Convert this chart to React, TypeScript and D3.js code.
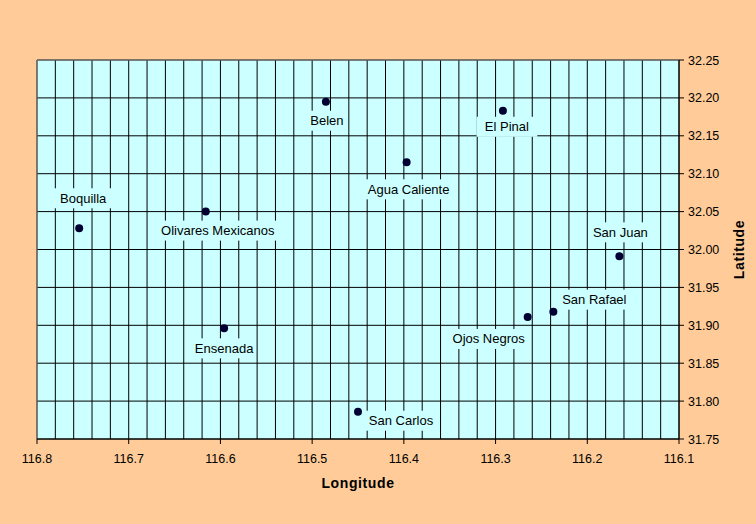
import * as d3 from "d3";

const places = [
  "Boquilla",
  "Olivares Mexicanos",
  "Ensenada",
  "Belen",
  "San Carlos",
  "Agua Caliente",
  "El Pinal",
  "Ojos Negros",
  "San Rafael",
  "San Juan",
];
const longitudes = [116.754, 116.616, 116.596, 116.485, 116.45, 116.397, 116.292, 116.265, 116.237, 116.165];
const latitudes = [32.028, 32.05, 31.896, 32.195, 31.786, 32.115, 32.183, 31.911, 31.918, 31.991];

const xTicks = [116.8, 116.7, 116.6, 116.5, 116.4, 116.3, 116.2, 116.1];
const yTicks = [31.75, 31.8, 31.85, 31.9, 31.95, 32.0, 32.05, 32.1, 32.15, 32.2, 32.25];

// label offsets from the point, in px (layout only)
const labelOffsets: [number, number][] = [
  [4, -30],
  [12, 19],
  [0, 20],
  [1, 19],
  [43, 9],
  [2, 27],
  [4, 16],
  [-39, 22],
  [41, -12],
  [1, -24],
];

const W = 756;
const H = 524;
const M = { left: 37, right: 679, top: 60, bottom: 439 };
const FONT = "'Liberation Sans', Arial, sans-serif";

export default function App() {
  const x = d3.scaleLinear().domain([116.8, 116.1]).range([M.left, M.right]);
  const y = d3.scaleLinear().domain([31.75, 32.25]).range([M.bottom, M.top]);
  const vGrid = d3.range(0, 36).map((i) => 116.8 - i * 0.02);

  return (
    <svg
      width={W}
      height={H}
      style={{ position: "absolute", left: 0, top: 0, fontFamily: FONT }}
    >
      <rect width={W} height={H} fill="#FFCC99" />
      <rect
        x={M.left}
        y={M.top}
        width={M.right - M.left}
        height={M.bottom - M.top}
        fill="#CCFFFF"
      />
      {vGrid.map((v, i) => (
        <line
          key={"v" + i}
          x1={x(v)}
          x2={x(v)}
          y1={M.top}
          y2={M.bottom}
          stroke="#000"
          strokeWidth={1}
        />
      ))}
      {yTicks.map((t) => (
        <line
          key={"h" + t}
          x1={M.left}
          x2={M.right}
          y1={y(t)}
          y2={y(t)}
          stroke="#000"
          strokeWidth={1}
        />
      ))}
      {/* plot border */}
      <line x1={M.left} x2={M.right} y1={M.top} y2={M.top} stroke="#808080" />
      <line x1={M.left} x2={M.left} y1={M.top} y2={M.bottom} stroke="#808080" />
      {/* axes */}
      <line x1={M.left} x2={M.right} y1={M.bottom} y2={M.bottom} stroke="#000" />
      <line x1={M.right} x2={M.right} y1={M.top} y2={M.bottom} stroke="#000" />
      {xTicks.map((t) => (
        <g key={"xt" + t}>
          <line x1={x(t)} x2={x(t)} y1={M.bottom} y2={M.bottom + 5} stroke="#000" />
          <text x={x(t)} y={M.bottom + 24} textAnchor="middle" fontSize={12.5} fill="#000">
            {d3.format(".1f")(t)}
          </text>
        </g>
      ))}
      {yTicks.map((t) => (
        <g key={"yt" + t}>
          <line x1={M.right} x2={M.right + 5} y1={y(t)} y2={y(t)} stroke="#000" />
          <text x={M.right + 9} y={y(t) + 4.5} fontSize={12.5} fill="#000">
            {d3.format(".2f")(t)}
          </text>
        </g>
      ))}
      {/* labels */}
      {places.map((p, i) => {
        const cx = x(longitudes[i]) + labelOffsets[i][0];
        const cy = y(latitudes[i]) + labelOffsets[i][1];
        const w = p.length * 6.6 + 8;
        return (
          <g key={"l" + p}>
            <rect x={cx - w / 2} y={cy - 10} width={w} height={20} fill="#CCFFFF" />
            <text x={cx} y={cy + 4.5} textAnchor="middle" fontSize={13} fill="#000">
              {p}
            </text>
          </g>
        );
      })}
      {places.map((p, i) => (
        <circle
          key={"c" + p}
          cx={x(longitudes[i])}
          cy={y(latitudes[i])}
          r={4}
          fill="#000033"
        />
      ))}
      <text
        x={(M.left + M.right) / 2}
        y={488}
        textAnchor="middle"
        fontSize={14}
        fontWeight="bold"
        letterSpacing={0.6}
        fill="#000"
      >
        Longitude
      </text>
      <text
        transform={`translate(744,${(M.top + M.bottom) / 2}) rotate(-90)`}
        textAnchor="middle"
        fontSize={14}
        fontWeight="bold"
        letterSpacing={0.6}
        fill="#000"
      >
        Latitude
      </text>
    </svg>
  );
}
